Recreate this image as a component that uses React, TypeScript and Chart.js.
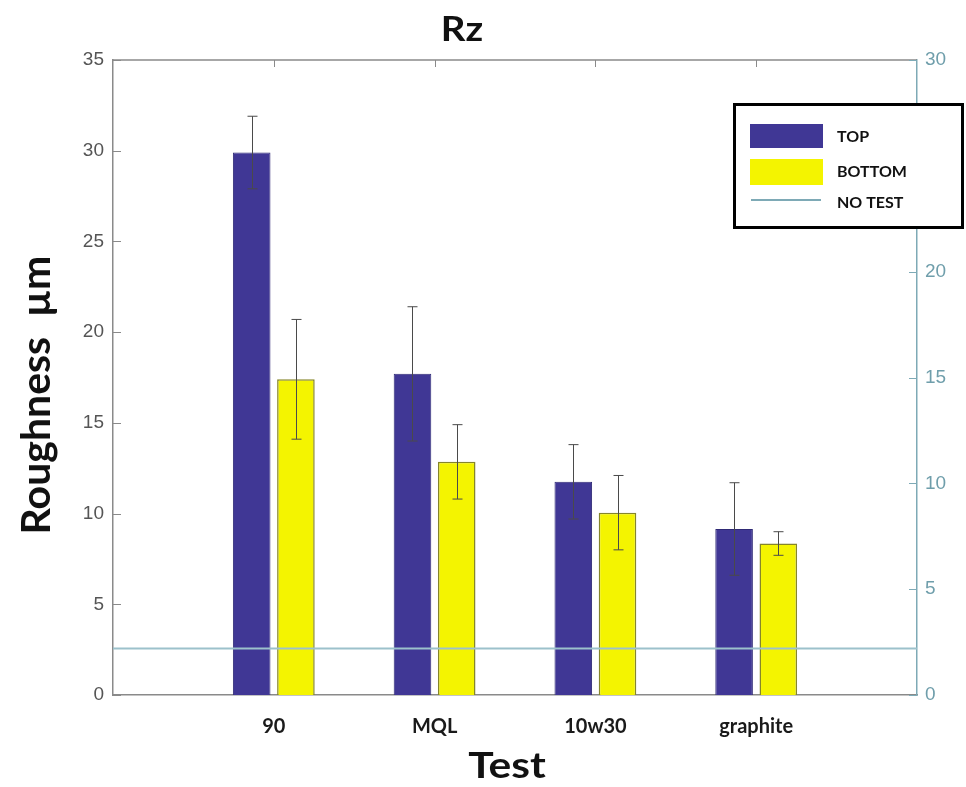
import React, { useEffect, useRef } from "react";
import { Chart, registerables } from "chart.js";

Chart.register(...registerables);

const categories = ["", "90", "MQL", "10w30", "graphite", ""];
const topValues = [null, 29.9, 17.7, 11.75, 9.15, null];
const topErrors = [null, 2.0, 3.7, 2.05, 2.55, null];
const bottomValues = [null, 17.4, 12.85, 10.05, 8.35, null];
const bottomErrors = [null, 3.3, 2.05, 2.05, 0.65, null];
const noTestValue = 2.2;
const noTestLine = [noTestValue, noTestValue, noTestValue, noTestValue, noTestValue, noTestValue];
const leftTicks = [0, 5, 10, 15, 20, 25, 30, 35];
const rightTicks = [0, 5, 10, 15, 20, 25, 30];

const BLUE = "#403795";
const YELLOW = "#f4f400";
const TEAL = "#9cc1cb";
const TEAL_AXIS = "#7eaab6";

const errorsByDataset: (number | null)[][] = [topErrors, bottomErrors];

const errorBarPlugin = {
  id: "errorBars",
  afterDatasetsDraw(chart: any) {
    const ctx = chart.ctx;
    const y = chart.scales.y;
    ctx.save();
    ctx.strokeStyle = "#4a4a4a";
    ctx.lineWidth = 1;
    [0, 1].forEach((di) => {
      const meta = chart.getDatasetMeta(di);
      const ds = chart.data.datasets[di];
      meta.data.forEach((el: any, i: number) => {
        const v = ds.data[i];
        const e = errorsByDataset[di][i];
        if (v == null || e == null) return;
        const x = Math.round(el.x) + 0.5;
        const yTop = y.getPixelForValue(v + e);
        const yBot = y.getPixelForValue(v - e);
        ctx.beginPath();
        ctx.moveTo(x, yTop);
        ctx.lineTo(x, yBot);
        ctx.moveTo(x - 5, yTop);
        ctx.lineTo(x + 5, yTop);
        ctx.moveTo(x - 5, yBot);
        ctx.lineTo(x + 5, yBot);
        ctx.stroke();
      });
    });
    ctx.restore();
  },
};

const framePlugin = {
  id: "frame",
  afterDraw(chart: any) {
    const ctx = chart.ctx;
    const { left, right, top } = chart.chartArea;
    const x = chart.scales.x;
    const y = chart.scales.y;
    const y1 = chart.scales.y1;
    ctx.save();
    ctx.strokeStyle = "#8a8a8a";
    ctx.lineWidth = 1.5;
    ctx.beginPath();
    ctx.moveTo(left, top);
    ctx.lineTo(right, top);
    ctx.stroke();
    ctx.lineWidth = 1;
    leftTicks.forEach((t) => {
      const py = Math.round(y.getPixelForValue(t)) + 0.5;
      ctx.beginPath();
      ctx.moveTo(left, py);
      ctx.lineTo(left + 8, py);
      ctx.stroke();
    });
    for (let i = 1; i <= 4; i++) {
      const px = Math.round(x.getPixelForValue(i)) + 0.5;
      ctx.beginPath();
      ctx.moveTo(px, top);
      ctx.lineTo(px, top + 7);
      ctx.stroke();
    }
    ctx.strokeStyle = TEAL_AXIS;
    rightTicks.forEach((t) => {
      const py = Math.round(y1.getPixelForValue(t)) + 0.5;
      ctx.beginPath();
      ctx.moveTo(right, py);
      ctx.lineTo(right - 8, py);
      ctx.stroke();
    });

    // title
    ctx.fillStyle = "#111";
    ctx.textAlign = "center";
    ctx.textBaseline = "middle";
    ctx.save();
    ctx.translate(462, 30);
    ctx.scale(1.1, 1);
    ctx.font = "bold 35px Lato";
    ctx.fillText("Rz", 0, 0);
    ctx.restore();

    // axis titles
    ctx.save();
    ctx.translate(507, 766);
    ctx.scale(1.15, 1);
    ctx.font = "bold 37px Lato";
    ctx.fillText("Test", 0, 0);
    ctx.restore();

    ctx.save();
    ctx.translate(37, 395);
    ctx.rotate(-Math.PI / 2);
    ctx.font = "bold 41px Lato";
    ctx.fillText("Roughness  \u00b5m", 0, 0);
    ctx.restore();

    // legend
    const lx = 733, ly = 103, lw = 231, lh = 126;
    ctx.fillStyle = "#ffffff";
    ctx.fillRect(lx, ly, lw, lh);
    ctx.strokeStyle = "#000";
    ctx.lineWidth = 3;
    ctx.strokeRect(lx + 1.5, ly + 1.5, lw - 3, lh - 3);
    const ds = chart.data.datasets;
    ctx.fillStyle = ds[0].backgroundColor;
    ctx.fillRect(750, 124, 73, 24);
    ctx.fillStyle = ds[1].backgroundColor;
    ctx.fillRect(750, 159, 73, 26);
    ctx.strokeStyle = TEAL_AXIS;
    ctx.lineWidth = 2;
    ctx.beginPath();
    ctx.moveTo(751, 200);
    ctx.lineTo(821, 200);
    ctx.stroke();
    ctx.fillStyle = "#111";
    ctx.font = "bold 16px Lato";
    ctx.textAlign = "left";
    ctx.fillText(ds[0].label, 837, 137);
    ctx.fillText(ds[1].label, 837, 172);
    ctx.fillText(ds[2].label, 837, 203);
    ctx.restore();
  },
};

export default function App() {
  const ref = useRef<HTMLCanvasElement>(null);
  useEffect(() => {
    if (!ref.current) return;
    const chart = new Chart(ref.current, {
      type: "bar",
      data: {
        labels: categories,
        datasets: [
          {
            type: "bar",
            label: "TOP",
            data: topValues as any,
            backgroundColor: BLUE,
            borderColor: "#2f2a75",
            borderWidth: 1,
            yAxisID: "y",
            order: 2,
            categoryPercentage: 0.55,
            barPercentage: 0.85,
          },
          {
            type: "bar",
            label: "BOTTOM",
            data: bottomValues as any,
            backgroundColor: YELLOW,
            borderColor: "#85852a",
            borderWidth: 1.5,
            yAxisID: "y",
            order: 2,
            categoryPercentage: 0.55,
            barPercentage: 0.85,
          },
          {
            type: "line",
            label: "NO TEST",
            data: noTestLine,
            borderColor: TEAL,
            borderWidth: 2,
            pointRadius: 0,
            yAxisID: "y1",
            order: 1,
          } as any,
        ],
      },
      options: {
        animation: false,
        responsive: false,
        maintainAspectRatio: false,
        layout: { padding: { top: 60, right: 0, bottom: 0, left: 0 } },
        plugins: {
          legend: { display: false },
          tooltip: { enabled: false },
          title: { display: false },
        },
        scales: {
          x: {
            type: "category",
            offset: false,
            grid: { display: false, drawTicks: false },
            border: { display: true, color: "#8a8a8a", width: 1.5 },
            ticks: {
              autoSkip: false,
              maxRotation: 0,
              padding: 20,
              color: "#1a1a1a",
              font: { family: "Lato", weight: "bold", size: 20 },
            },
            afterFit: (s: any) => {
              s.height = 92;
            },
          },
          y: {
            position: "left",
            min: 0,
            max: 35,
            grid: { display: false, drawTicks: false },
            border: { display: true, color: "#8a8a8a", width: 1.5 },
            ticks: {
              stepSize: 5,
              padding: 9,
              color: "#555555",
              font: { family: "Liberation Sans", size: 19 },
            },
            afterFit: (s: any) => {
              s.width = 113;
            },
          },
          y1: {
            position: "right",
            min: 0,
            max: 30,
            grid: { display: false, drawTicks: false },
            border: { display: true, color: TEAL_AXIS, width: 1.5 },
            ticks: {
              stepSize: 5,
              padding: 8,
              color: "#6f9eab",
              font: { family: "Liberation Sans", size: 19 },
            },
            afterFit: (s: any) => {
              s.width = 49;
            },
          },
        },
      },
      plugins: [errorBarPlugin, framePlugin],
    });
    return () => chart.destroy();
  }, []);

  return (
    <div style={{ position: "fixed", left: 0, top: 0, width: 966, height: 787, background: "#fff" }}>
      <canvas ref={ref} width={966} height={787} style={{ width: 966, height: 787 }} />
    </div>
  );
}
